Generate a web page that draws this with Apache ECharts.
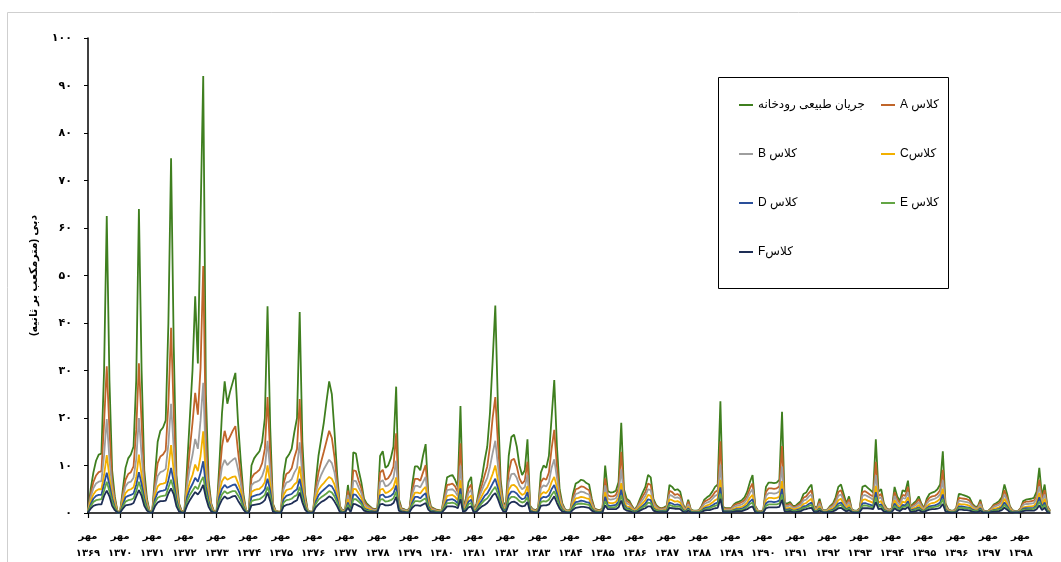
<!DOCTYPE html>
<html>
<head>
<meta charset="utf-8">
<script src="https://cdn.jsdelivr.net/npm/echarts/dist/echarts.min.js"></script>
<style>
html,body{margin:0;padding:0;background:#fff;}
#chart{width:1061px;height:562px;direction:rtl;}
</style>
</head>
<body>
<div id="chart"></div>
<script>
// ---- data (monthly, water years starting in Mehr) ----
const monthNames = ['مهر','آبان','آذر','دی','بهمن','اسفند','فروردین','اردیبهشت','خرداد','تیر','مرداد','شهریور'];
const yearLabels = ['۱۳۶۹','۱۳۷۰','۱۳۷۱','۱۳۷۲','۱۳۷۳','۱۳۷۴','۱۳۷۵','۱۳۷۶','۱۳۷۷','۱۳۷۸','۱۳۷۹','۱۳۸۰','۱۳۸۱','۱۳۸۲','۱۳۸۳','۱۳۸۴','۱۳۸۵','۱۳۸۶','۱۳۸۷','۱۳۸۸','۱۳۸۹','۱۳۹۰','۱۳۹۱','۱۳۹۲','۱۳۹۳','۱۳۹۴','۱۳۹۵','۱۳۹۶','۱۳۹۷','۱۳۹۸'];
const yTickValues = [0,10,20,30,40,50,60,70,80,90,100];
const seriesNames = ['جریان طبیعی رودخانه','کلاس A','کلاس B','کلاسC','کلاس D','کلاس E','کلاسF'];
const axisTitle = 'دبی (مترمکعب بر ثانیه)';

const natural = [
0.5,5,8.5,11,12.3,12.5,30,62.5,28,9,3.5,0.3,
0.3,5,9.5,11.5,12.3,14,28,64,30,9,3,0.3,
0.5,8,15,17.3,18,19.5,40,74.7,35,8,2,0.3,
0.5,10,20,30,45.6,31.5,62,92,25,7,2,0.3,
0.5,10,21,27.7,23,25.5,27.5,29.5,19,11,4,0.5,
0.3,10,11.5,12.3,13,15,20,43.5,18,2,0.5,0.3,
0.3,8,11.5,12.3,13.5,17,20,42.3,15,4,0.5,0.3,
0.3,6.5,12,15.5,19,23.5,27.7,25,17,8,1.5,0.5,
0.8,5.9,1.5,12.8,12.5,9,6.5,3,2,1.5,1,0.8,
1,12,13,9.5,10,11.5,14,26.6,3,1,0.8,0.5,
1,6,9.8,9.8,9,12,14.5,4,1.3,1,0.7,0.6,
0.5,4,7.5,7.8,8,7,5.5,22.5,1,3,6.5,7.6,
0.5,2,5,7.5,11,14,21,32,43.7,22,7,2,
2,12,16,16.5,14,10,8,9,15.5,1.5,0.8,0.6,
1,8.5,10,9.5,12,20,28,14,5,2,0.8,0.5,
0.7,4,6.2,6.5,7,6.8,6.3,6,3,1,0.7,0.6,
1,10,4.6,4.3,4.4,4.7,6.5,19,5,3,2.6,1.5,
0.7,1.5,3,4.3,5.5,8,7.5,3,1.7,1.2,1,1.2,
1.5,5.9,5.5,4.8,5,4.5,2,0.7,2.8,0.7,0.5,0.5,
0.6,1.5,2.8,3.3,3.7,4.5,5.5,6,23.5,1.3,1,1,
1,1.8,2.2,2.4,2.7,3.3,4.5,6.5,8,1.5,0.5,0.3,
0.6,5.5,6.4,6.4,6.3,6.4,7,21.3,2,2,2.3,1.5,
1.5,2,2.5,4,4.3,5.3,6,1.5,1,3,0.8,0.5,
0.8,1.5,2,3.3,5.5,6,4,2,3.5,0.8,0.5,0.5,
1,5.5,5.8,5.3,4.8,4.3,15.5,4.5,5,2,1,0.7,
1,5.5,3.5,2.5,4.8,4.5,6.8,1.3,2,2.5,3.5,2,
1,3,4,4.3,4.5,5,6,13,2,0.8,0.5,0.5,
1,4,3.9,3.7,3.5,3.2,2,1.4,1.3,2.8,0.6,0.4,
0.5,1,1.8,2.1,2.5,3.3,6,4,1.5,0.6,0.4,0.4,
1,2.5,2.8,2.9,3,3.2,4.5,9.5,3.5,6,1.5,0.5
];

const classA = [
0.4,4,6.5,7.9,8.6,8.8,19,30.9,17.5,6.8,2.9,0.3,
0.3,4,7,8.2,8.6,9.8,17.5,31.5,19,6.8,2.5,0.3,
0.4,6.2,10.5,11.9,12.3,13.2,23,39,21,6.2,1.7,0.3,
0.4,7.3,13.5,19,25.3,20.7,30.5,52,15.8,5.6,1.7,0.3,
0.4,7.3,14,17.3,14.9,16.1,17.3,18.3,12.9,7.9,3.2,0.4,
0.3,7.3,8.2,8.6,9.1,10.5,13.5,24.4,12.3,1.7,0.4,0.3,
0.3,6.2,8.2,8.6,9.4,11.7,13.5,24,10.5,3.2,0.4,0.3,
0.3,5.2,8.5,10.8,12.9,15.1,17.3,15.8,11.7,6.2,1.3,0.4,
0.7,4.7,1.3,9,8.8,6.8,5.2,2.5,1.7,1.3,0.9,0.7,
0.9,8.5,9.1,7,7.3,8.2,9.8,16.8,2.5,0.9,0.7,0.4,
0.9,4.8,7.2,7.2,6.8,8.5,10.1,3.2,1.1,0.9,0.6,0.5,
0.4,3.2,5.9,6,6.2,5.6,4.4,14.7,0.9,2.5,5.2,6,
0.4,1.7,4,5.9,7.9,9.8,14,20,24.4,14.5,5.6,1.7,
1.7,8.5,11.1,11.4,9.8,7.3,6.2,6.8,10.8,1.3,0.7,0.5,
0.9,6.5,7.3,7,8.5,13.5,17.5,9.8,4,1.7,0.7,0.4,
0.6,3.2,5,5.2,5.6,5.5,5.1,4.8,2.5,0.9,0.6,0.5,
0.9,7.3,3.7,3.5,3.5,3.8,5.2,12.9,4,2.5,2.2,1.3,
0.6,1.3,2.5,3.5,4.4,6.2,5.9,2.5,1.5,1,0.9,1,
1.3,4.7,4.4,3.8,4,3.6,1.7,0.6,2.4,0.6,0.4,0.4,
0.5,1.3,2.4,2.7,3,3.6,4.4,4.8,15.1,1.1,0.9,0.9,
0.9,1.6,1.9,2,2.3,2.7,3.6,5.2,6.2,1.3,0.4,0.3,
0.5,4.4,5.2,5.2,5.1,5.2,5.6,14.1,1.7,1.7,2,1.3,
1.3,1.7,2.1,3.2,3.5,4.2,4.8,1.3,0.9,2.5,0.7,0.4,
0.7,1.3,1.7,2.7,4.4,4.8,3.2,1.7,2.9,0.7,0.4,0.4,
0.9,4.4,4.6,4.2,3.8,3.5,10.8,3.6,4,1.7,0.9,0.6,
0.9,4.4,2.9,2.1,3.8,3.6,5.5,1.1,1.7,2.1,2.9,1.7,
0.9,2.5,3.2,3.5,3.6,4,4.8,9.1,1.7,0.7,0.4,0.4,
0.9,3.2,3.1,3,2.9,2.6,1.7,1.2,1.1,2.4,0.5,0.3,
0.4,0.9,1.6,1.8,2.1,2.7,4.8,3.2,1.3,0.5,0.3,0.3,
0.9,2.1,2.4,2.4,2.5,2.6,3.6,7,2.9,4.8,1.3,0.4
];

const classB = [
0.4,3.3,5.2,6.2,6.6,6.7,12.2,19.8,11.3,5.4,2.3,0.2,
0.2,3.3,5.6,6.4,6.6,7.4,11.3,20,12.2,5.4,2,0.2,
0.4,5,7.8,8.6,8.8,9.3,14.5,23,13.5,5,1.4,0.2,
0.4,5.8,9.5,12.2,15.6,13.5,19.5,27.4,10.5,4.5,1.4,0.2,
0.4,5.8,9.7,11.2,10.1,10.7,11.2,11.6,9.2,6.2,2.6,0.4,
0.2,5.8,6.4,6.6,6.9,7.8,9.5,15.2,8.8,1.4,0.4,0.2,
0.2,5,6.4,6.6,7.1,8.5,9.5,14.9,7.8,2.6,0.4,0.2,
0.2,4.2,6.5,8,9.2,10.2,11.2,10.5,8.5,5,1.1,0.4,
0.6,3.8,1.1,6.8,6.7,5.4,4.2,2,1.4,1.1,0.7,0.6,
0.7,6.5,6.9,5.6,5.8,6.4,7.4,11,2,0.7,0.6,0.4,
0.7,3.9,5.7,5.7,5.4,6.5,7.6,2.6,0.9,0.7,0.5,0.4,
0.4,2.6,4.8,4.9,5,4.5,3.6,10,0.7,2,4.2,4.9,
0.4,1.4,3.3,4.8,6.2,7.4,9.7,12.6,15.2,9.9,4.5,1.4,
1.4,6.5,8.2,8.3,7.4,5.8,5,5.4,8,1.1,0.6,0.4,
0.7,5.2,5.8,5.6,6.5,9.5,11.3,7.4,3.3,1.4,0.6,0.4,
0.5,2.6,4,4.2,4.5,4.4,4.1,3.9,2,0.7,0.5,0.4,
0.7,5.8,3,2.8,2.9,3.1,4.2,9.2,3.3,2,1.8,1.1,
0.5,1.1,2,2.8,3.6,5,4.8,2,1.2,0.8,0.7,0.8,
1.1,3.8,3.6,3.2,3.3,3,1.4,0.5,1.9,0.5,0.4,0.4,
0.4,1.1,1.9,2.2,2.4,3,3.6,3.9,10.2,0.9,0.7,0.7,
0.7,1.3,1.5,1.6,1.8,2.2,3,4.2,5,1.1,0.4,0.2,
0.4,3.6,4.2,4.2,4.1,4.2,4.5,9.8,1.4,1.4,1.6,1.1,
1.1,1.4,1.7,2.6,2.8,3.5,3.9,1.1,0.7,2,0.6,0.4,
0.6,1.1,1.4,2.2,3.6,3.9,2.6,1.4,2.3,0.6,0.4,0.4,
0.7,3.6,3.8,3.5,3.2,2.8,8,3,3.3,1.4,0.7,0.5,
0.7,3.6,2.3,1.7,3.2,3,4.4,0.9,1.4,1.7,2.3,1.4,
0.7,2,2.6,2.8,3,3.3,3.9,6.9,1.4,0.6,0.4,0.4,
0.7,2.6,2.5,2.4,2.3,2.1,1.4,1,0.9,1.9,0.4,0.3,
0.4,0.7,1.3,1.5,1.7,2.2,3.9,2.6,1.1,0.4,0.3,0.3,
0.7,1.7,1.9,1.9,2,2.1,3,5.6,2.3,3.9,1.1,0.4
];

const classC = [
0.3,2.5,3.9,4.7,5,5,8,12.2,7.6,4.1,1.7,0.2,
0.2,2.5,4.2,4.8,5,5.4,7.6,12.3,8,4.1,1.4,0.2,
0.3,3.8,5.6,6.1,6.2,6.4,9.5,14.3,8.8,3.8,1,0.2,
0.3,4.4,6.5,8,10.2,8.8,12,17.2,7.2,3.4,1,0.2,
0.3,4.4,6.7,7.6,7,7.3,7.6,7.7,6.3,4.7,1.9,0.3,
0.2,4.4,4.8,5,5.1,5.6,6.5,10,6.2,1,0.3,0.2,
0.2,3.8,4.8,5,5.2,6,6.5,9.8,5.6,1.9,0.3,0.2,
0.2,3.2,4.9,5.7,6.3,7,7.6,7.2,6,3.8,0.8,0.3,
0.4,2.9,0.8,5.1,5,4.1,3.2,1.4,1,0.8,0.5,0.4,
0.5,4.9,5.1,4.2,4.4,4.8,5.4,7.5,1.4,0.5,0.4,0.3,
0.5,3,4.3,4.3,4.1,4.9,5.5,1.9,0.7,0.5,0.4,0.3,
0.3,1.9,3.6,3.7,3.8,3.4,2.7,6.9,0.5,1.4,3.2,3.7,
0.3,1,2.5,3.6,4.7,5.4,6.7,8.2,10,6.8,3.4,1,
1,4.9,5.8,5.9,5.4,4.4,3.8,4.1,5.7,0.8,0.4,0.3,
0.5,3.9,4.4,4.2,4.9,6.5,7.6,5.4,2.5,1,0.4,0.3,
0.4,1.9,3.1,3.2,3.4,3.3,3.1,3,1.4,0.5,0.4,0.3,
0.5,4.4,2.2,2.1,2.1,2.3,3.2,6.3,2.5,1.4,1.3,0.8,
0.4,0.8,1.4,2.1,2.7,3.8,3.6,1.4,0.9,0.6,0.5,0.6,
0.8,2.9,2.7,2.4,2.5,2.2,1,0.4,1.3,0.4,0.3,0.3,
0.3,0.8,1.3,1.6,1.8,2.2,2.7,3,7,0.7,0.5,0.5,
0.5,0.9,1.1,1.2,1.3,1.6,2.2,3.2,3.8,0.8,0.3,0.2,
0.3,2.7,3.2,3.2,3.1,3.2,3.4,6.7,1,1,1.1,0.8,
0.8,1,1.2,1.9,2.1,2.6,3,0.8,0.5,1.4,0.4,0.3,
0.4,0.8,1,1.6,2.7,3,1.9,1,1.7,0.4,0.3,0.3,
0.5,2.7,2.9,2.6,2.4,2.1,5.7,2.2,2.5,1,0.5,0.4,
0.5,2.7,1.7,1.2,2.4,2.2,3.3,0.7,1,1.2,1.7,1,
0.5,1.4,1.9,2.1,2.2,2.5,3,5.1,1,0.4,0.3,0.3,
0.5,1.9,1.8,1.8,1.7,1.5,1,0.7,0.7,1.3,0.3,0.2,
0.3,0.5,0.9,1,1.2,1.6,3,1.9,0.8,0.3,0.2,0.2,
0.5,1.2,1.3,1.4,1.4,1.5,2.2,4.2,1.7,3,0.8,0.3
];

const classD = [
0.2,1.8,3,3.6,3.8,3.8,6.1,8.5,5.9,3.1,1.2,0.1,
0.1,1.8,3.3,3.6,3.8,4.1,5.9,8.6,6.1,3.1,1,0.1,
0.2,2.9,4.3,4.6,4.7,4.9,6.9,9.5,6.5,2.9,0.7,0.1,
0.2,3.4,5,6.1,7.4,6.6,8.4,10.9,5.6,2.6,0.7,0.1,
0.2,3.4,5.1,5.9,5.3,5.6,5.9,6,4.9,3.6,1.4,0.2,
0.1,3.4,3.6,3.8,3.9,4.3,5,7.2,4.7,0.7,0.2,0.1,
0.1,2.9,3.6,3.8,4,4.6,5,7.2,4.3,1.4,0.2,0.1,
0.1,2.4,3.7,4.4,4.9,5.4,5.9,5.6,4.6,2.9,0.5,0.2,
0.3,2.2,0.5,3.9,3.8,3.1,2.4,1,0.7,0.5,0.4,0.3,
0.4,3.7,3.9,3.3,3.4,3.6,4.1,5.8,1,0.4,0.3,0.2,
0.4,2.2,3.4,3.4,3.1,3.7,4.2,1.4,0.5,0.4,0.3,0.2,
0.2,1.4,2.7,2.8,2.9,2.6,2,5.2,0.4,1,2.4,2.8,
0.2,0.7,1.8,2.7,3.6,4.1,5.1,6.2,7.2,5.2,2.6,0.7,
0.7,3.7,4.5,4.5,4.1,3.4,2.9,3.1,4.4,0.5,0.3,0.2,
0.4,3,3.4,3.3,3.7,5,5.9,4.1,1.8,0.7,0.3,0.2,
0.3,1.4,2.3,2.4,2.6,2.5,2.3,2.2,1,0.4,0.3,0.2,
0.4,3.4,1.6,1.5,1.6,1.7,2.4,4.9,1.8,1,0.9,0.5,
0.3,0.5,1,1.5,2,2.9,2.7,1,0.6,0.5,0.4,0.5,
0.5,2.2,2,1.7,1.8,1.6,0.7,0.3,1,0.3,0.2,0.2,
0.2,0.5,1,1.2,1.3,1.6,2,2.2,5.4,0.5,0.4,0.4,
0.4,0.6,0.8,0.8,0.9,1.2,1.6,2.4,2.9,0.5,0.2,0.1,
0.2,2,2.4,2.4,2.3,2.4,2.6,5.1,0.7,0.7,0.8,0.5,
0.5,0.7,0.9,1.4,1.5,1.9,2.2,0.5,0.4,1,0.3,0.2,
0.3,0.5,0.7,1.2,2,2.2,1.4,0.7,1.2,0.3,0.2,0.2,
0.4,2,2.1,1.9,1.7,1.5,4.4,1.6,1.8,0.7,0.4,0.3,
0.4,2,1.2,0.9,1.7,1.6,2.5,0.5,0.7,0.9,1.2,0.7,
0.4,1,1.4,1.5,1.6,1.8,2.2,3.9,0.7,0.3,0.2,0.2,
0.4,1.4,1.4,1.3,1.2,1.1,0.7,0.5,0.5,1,0.2,0.2,
0.2,0.4,0.6,0.7,0.9,1.2,2.2,1.4,0.5,0.2,0.2,0.2,
0.4,0.9,1,1,1,1.1,1.6,3.3,1.2,2.2,0.5,0.2
];

const classE = [
0.2,1.4,2.3,2.7,2.8,2.9,4.7,6.6,4.6,2.4,1,0.1,
0.1,1.4,2.4,2.7,2.8,3.1,4.6,6.6,4.7,2.4,0.8,0.1,
0.2,2.2,3.2,3.5,3.6,3.7,5.3,7,5,2.2,0.5,0.1,
0.2,2.5,3.8,4.7,5.6,5,6.5,7.6,4.3,2,0.5,0.1,
0.2,2.5,3.9,4.6,4.1,4.4,4.6,4.6,3.7,2.7,1.1,0.2,
0.1,2.5,2.7,2.8,2.9,3.3,3.8,5.5,3.6,0.5,0.2,0.1,
0.1,2.2,2.7,2.8,3,3.5,3.8,5.5,3.2,1.1,0.2,0.1,
0.1,1.9,2.8,3.3,3.7,4.1,4.6,4.3,3.5,2.2,0.4,0.2,
0.2,1.7,0.4,2.9,2.9,2.4,1.9,0.8,0.5,0.4,0.3,0.2,
0.3,2.8,2.9,2.4,2.5,2.7,3.1,4.5,0.8,0.3,0.2,0.2,
0.3,1.7,2.5,2.5,2.4,2.8,3.1,1.1,0.4,0.3,0.2,0.2,
0.2,1.1,2.1,2.1,2.2,2,1.5,4,0.3,0.8,1.9,2.1,
0.2,0.5,1.4,2.1,2.7,3.1,3.9,4.8,5.5,4,2,0.5,
0.5,2.8,3.4,3.4,3.1,2.5,2.2,2.4,3.3,0.4,0.2,0.2,
0.3,2.3,2.5,2.4,2.8,3.8,4.6,3.1,1.4,0.5,0.2,0.2,
0.2,1.1,1.8,1.9,2,1.9,1.8,1.7,0.8,0.3,0.2,0.2,
0.3,2.5,1.3,1.2,1.2,1.3,1.9,3.7,1.4,0.8,0.7,0.4,
0.2,0.4,0.8,1.2,1.5,2.2,2.1,0.8,0.5,0.4,0.3,0.4,
0.4,1.7,1.5,1.3,1.4,1.3,0.5,0.2,0.7,0.2,0.2,0.2,
0.2,0.4,0.7,0.9,1,1.3,1.5,1.7,4.1,0.4,0.3,0.3,
0.3,0.5,0.6,0.6,0.7,0.9,1.3,1.9,2.2,0.4,0.2,0.1,
0.2,1.5,1.8,1.8,1.8,1.8,2,3.9,0.5,0.5,0.6,0.4,
0.4,0.5,0.7,1.1,1.2,1.5,1.7,0.4,0.3,0.8,0.2,0.2,
0.2,0.4,0.5,0.9,1.5,1.7,1.1,0.5,1,0.2,0.2,0.2,
0.3,1.5,1.6,1.5,1.3,1.2,3.3,1.3,1.4,0.5,0.3,0.2,
0.3,1.5,1,0.7,1.3,1.3,1.9,0.4,0.5,0.7,1,0.5,
0.3,0.8,1.1,1.2,1.3,1.4,1.7,2.9,0.5,0.2,0.2,0.2,
0.3,1.1,1.1,1,1,0.9,0.5,0.4,0.4,0.7,0.2,0.1,
0.2,0.3,0.5,0.6,0.7,0.9,1.7,1.1,0.4,0.2,0.1,0.1,
0.3,0.7,0.7,0.8,0.8,0.9,1.3,2.4,1,1.7,0.4,0.2
];

const classF = [
0.1,0.9,1.5,1.7,1.8,1.8,3.6,4.7,3.5,1.5,0.6,0.1,
0.1,0.9,1.6,1.7,1.8,2.1,3.5,4.8,3.6,1.5,0.5,0.1,
0.1,1.4,2.2,2.5,2.5,2.6,4.1,5.2,3.9,1.4,0.3,0.1,
0.1,1.6,2.7,3.6,4.4,3.9,4.7,5.9,3.2,1.3,0.3,0.1,
0.1,1.6,2.8,3.5,3,3.2,3.5,3.6,2.6,1.7,0.7,0.1,
0.1,1.6,1.7,1.8,1.9,2.2,2.7,4.3,2.5,0.3,0.1,0.1,
0.1,1.4,1.7,1.8,2,2.4,2.7,4.3,2.2,0.7,0.1,0.1,
0.1,1.2,1.8,2.3,2.6,3,3.5,3.2,2.4,1.4,0.2,0.1,
0.2,1.1,0.2,1.9,1.8,1.5,1.2,0.5,0.3,0.2,0.2,0.2,
0.2,1.8,1.9,1.6,1.6,1.7,2.1,3.4,0.5,0.2,0.2,0.1,
0.2,1.1,1.6,1.6,1.5,1.8,2.1,0.7,0.2,0.2,0.1,0.1,
0.1,0.7,1.4,1.4,1.4,1.3,1,2.9,0.2,0.5,1.2,1.4,
0.1,0.3,0.9,1.4,1.7,2.1,2.8,3.7,4.2,2.9,1.3,0.3,
0.3,1.8,2.3,2.4,2.1,1.6,1.4,1.5,2.3,0.2,0.2,0.1,
0.2,1.5,1.6,1.6,1.8,2.7,3.5,2.1,0.9,0.3,0.2,0.1,
0.1,0.7,1.1,1.2,1.3,1.3,1.2,1.1,0.5,0.2,0.1,0.1,
0.2,1.6,0.8,0.8,0.8,0.8,1.2,2.6,0.9,0.5,0.4,0.2,
0.1,0.2,0.5,0.8,1,1.4,1.4,0.5,0.3,0.2,0.2,0.2,
0.2,1.1,1,0.9,0.9,0.8,0.3,0.1,0.5,0.1,0.1,0.1,
0.1,0.2,0.5,0.6,0.6,0.8,1,1.1,3,0.2,0.2,0.2,
0.2,0.3,0.4,0.4,0.4,0.6,0.8,1.2,1.4,0.2,0.1,0.1,
0.1,1,1.2,1.2,1.2,1.2,1.3,2.8,0.3,0.3,0.4,0.2,
0.2,0.3,0.4,0.7,0.8,1,1.1,0.2,0.2,0.5,0.2,0.1,
0.2,0.2,0.3,0.6,1,1.1,0.7,0.3,0.6,0.2,0.1,0.1,
0.2,1,1,1,0.9,0.8,2.3,0.8,0.9,0.3,0.2,0.1,
0.2,1,0.6,0.4,0.9,0.8,1.3,0.2,0.3,0.4,0.6,0.3,
0.2,0.5,0.7,0.8,0.8,0.9,1.1,1.9,0.3,0.2,0.1,0.1,
0.2,0.7,0.7,0.6,0.6,0.5,0.3,0.2,0.2,0.5,0.1,0.1,
0.1,0.2,0.3,0.3,0.4,0.6,1.1,0.7,0.2,0.1,0.1,0.1,
0.2,0.4,0.5,0.5,0.5,0.5,0.8,1.6,0.6,1.1,0.2,0.1
];

// ---- build chart ----
const seriesData = [natural, classA, classB, classC, classD, classE, classF];
const colors = ['#3f7f1f','#c0652a','#9e9e9e','#f2b000','#2a4f9a','#63a544','#1e2e55'];
const categories = [];
yearLabels.forEach(y => monthNames.forEach(m => categories.push(m + ' ' + y)));
const faDigits = '۰۱۲۳۴۵۶۷۸۹';
const toFa = v => String(v).replace(/[0-9]/g, d => faDigits[+d]);
const fontFam = "'Liberation Sans','DejaVu Sans',sans-serif";
const isYearStart = i => i % 12 === 0;

const chart = echarts.init(document.getElementById('chart'), null, {renderer: 'canvas'});
chart.setOption({
  animation: false,
  backgroundColor: '#ffffff',
  textStyle: {fontFamily: fontFam},
  grid: {left: 88, right: 11, top: 38, bottom: 42},
  xAxis: {
    type: 'category',
    data: categories,
    boundaryGap: false,
    axisLine: {lineStyle: {color: '#000', width: 1.5}},
    axisTick: {interval: isYearStart, length: 5, lineStyle: {color: '#000', width: 1.2}},
    axisLabel: {
      interval: isYearStart,
      formatter: (v, i) => monthNames[0] + '\n' + yearLabels[Math.floor(i / 12)],
      margin: 15, lineHeight: 17, fontSize: 10, fontWeight: 'bold', color: '#000', fontFamily: fontFam
    },
    splitLine: {show: false}
  },
  yAxis: {
    type: 'value', min: yTickValues[0], max: yTickValues[yTickValues.length - 1], interval: 10,
    name: axisTitle, nameLocation: 'middle', nameGap: 49, nameRotate: 90,
    nameTextStyle: {fontSize: 11, fontWeight: 'bold', color: '#000', fontFamily: fontFam},
    axisLine: {show: true, lineStyle: {color: '#000', width: 1.5}},
    axisTick: {show: true, length: 4, lineStyle: {color: '#000'}},
    axisLabel: {formatter: toFa, margin: 16, fontSize: 11, fontWeight: 'bold', color: '#000', fontFamily: fontFam},
    splitLine: {show: false}
  },
  legend: [
    {data: [seriesNames[0], seriesNames[2], seriesNames[4], seriesNames[6]], orient: 'vertical', left: 734, top: 94,
     itemGap: 37, itemWidth: 14, itemHeight: 2, icon: 'rect',
     textStyle: {fontSize: 12, color: '#000', fontFamily: fontFam}},
    {data: [seriesNames[1], seriesNames[3], seriesNames[5]], orient: 'vertical', left: 876, top: 94,
     itemGap: 37, itemWidth: 14, itemHeight: 2, icon: 'rect',
     textStyle: {fontSize: 12, color: '#000', fontFamily: fontFam}}
  ],
  graphic: [
    {type: 'rect', silent: true, z: -10, shape: {x: 7.5, y: 12.5, width: 1100, height: 600},
     style: {fill: 'none', stroke: '#cfcfcf', lineWidth: 1}},
    {type: 'rect', silent: true, shape: {x: 718.5, y: 77.5, width: 230, height: 211},
     style: {fill: 'none', stroke: '#000', lineWidth: 1}}
  ],
  series: seriesData.map((d, k) => ({
    name: seriesNames[k],
    type: 'line',
    data: d,
    showSymbol: false,
    symbol: 'none',
    color: colors[k],
    lineStyle: {width: 1.8, color: colors[k]},
    emphasis: {disabled: true}
  }))
});
</script>
</body>
</html>
